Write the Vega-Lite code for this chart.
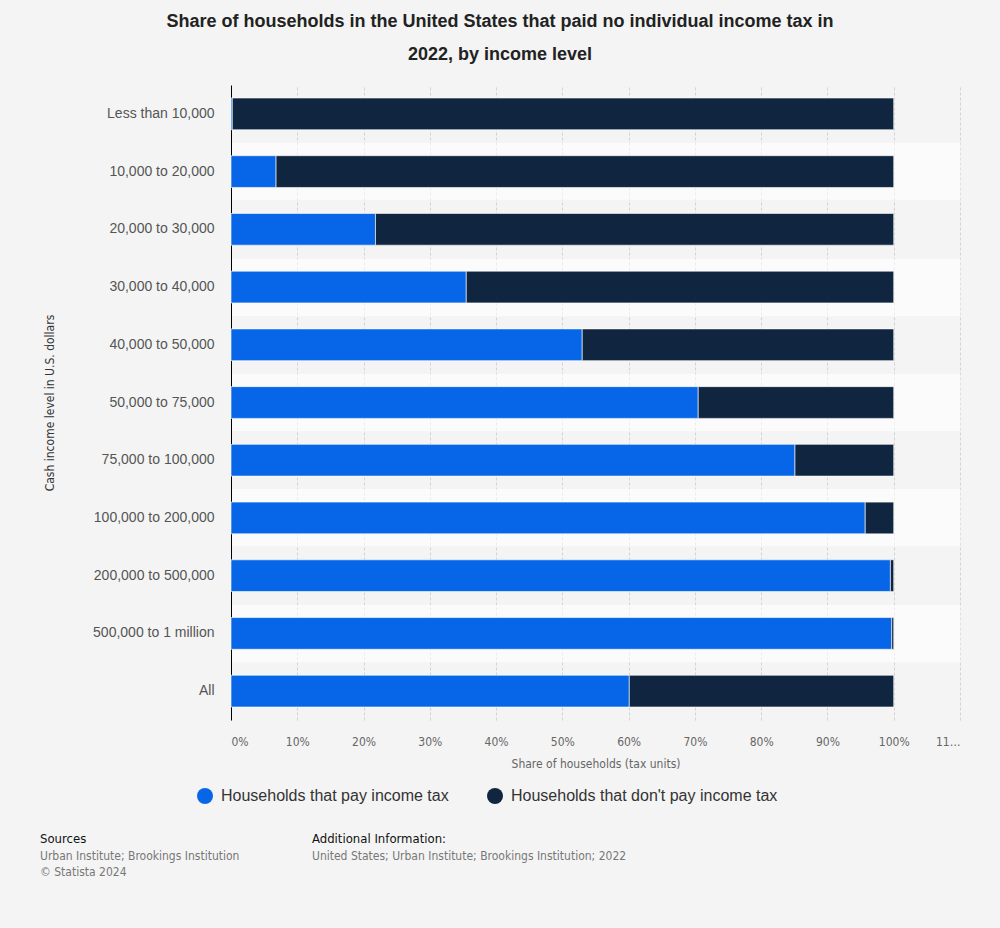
{
  "$schema": "https://vega.github.io/schema/vega-lite/v6.json",
  "background": "#f4f4f4",
  "padding": {"left": 40, "top": 13, "right": 40, "bottom": 52},
  "spacing": 29,
  "title": {
    "text": ["Share of households in the United States that paid no individual income tax in", "2022, by income level"],
    "fontSize": 18,
    "font": "Liberation Sans",
    "fontWeight": "bold",
    "color": "#222222",
    "lineHeight": 33,
    "anchor": "middle",
    "offset": 21,
    "frame": "bounds"
  },
  "config": {"view": {"stroke": null}},
  "resolve": {"scale": {"color": "independent", "size": "independent"}, "legend": {"color": "independent"}},
  "vconcat": [
    {
      "width": 729,
      "height": 635,
      "data": {"values": [
        {"income": "Less than 10,000", "group": "Households that pay income tax", "share": 0.2},
        {"income": "Less than 10,000", "group": "Households that don't pay income tax", "share": 99.8},
        {"income": "10,000 to 20,000", "group": "Households that pay income tax", "share": 6.8},
        {"income": "10,000 to 20,000", "group": "Households that don't pay income tax", "share": 93.2},
        {"income": "20,000 to 30,000", "group": "Households that pay income tax", "share": 21.8},
        {"income": "20,000 to 30,000", "group": "Households that don't pay income tax", "share": 78.2},
        {"income": "30,000 to 40,000", "group": "Households that pay income tax", "share": 35.5},
        {"income": "30,000 to 40,000", "group": "Households that don't pay income tax", "share": 64.5},
        {"income": "40,000 to 50,000", "group": "Households that pay income tax", "share": 53.0},
        {"income": "40,000 to 50,000", "group": "Households that don't pay income tax", "share": 47.0},
        {"income": "50,000 to 75,000", "group": "Households that pay income tax", "share": 70.5},
        {"income": "50,000 to 75,000", "group": "Households that don't pay income tax", "share": 29.5},
        {"income": "75,000 to 100,000", "group": "Households that pay income tax", "share": 85.1},
        {"income": "75,000 to 100,000", "group": "Households that don't pay income tax", "share": 14.9},
        {"income": "100,000 to 200,000", "group": "Households that pay income tax", "share": 95.7},
        {"income": "100,000 to 200,000", "group": "Households that don't pay income tax", "share": 4.3},
        {"income": "200,000 to 500,000", "group": "Households that pay income tax", "share": 99.5},
        {"income": "200,000 to 500,000", "group": "Households that don't pay income tax", "share": 0.5},
        {"income": "500,000 to 1 million", "group": "Households that pay income tax", "share": 99.7},
        {"income": "500,000 to 1 million", "group": "Households that don't pay income tax", "share": 0.3},
        {"income": "All", "group": "Households that pay income tax", "share": 60.1},
        {"income": "All", "group": "Households that don't pay income tax", "share": 39.9}
      ]},
      "mark": {"type": "bar", "stroke": "#ffffff", "strokeWidth": 1, "strokeOpacity": 0.6},
      "encoding": {
        "y": {
          "field": "income",
          "type": "nominal",
          "sort": null,
          "scale": {"paddingInner": 0.45, "paddingOuter": 0.225},
          "axis": {
            "title": "Cash income level in U.S. dollars",
            "titleFont": "DejaVu Sans Condensed, Liberation Sans, sans-serif",
            "titleFontSize": 12,
            "titleFontWeight": "normal",
            "titleColor": "#333333",
            "titlePadding": 36,
            "labelFont": "Liberation Sans",
            "labelFontSize": 14,
            "labelColor": "#555555",
            "labelPadding": 17,
            "ticks": false,
            "domain": true,
            "domainColor": "#000000",
            "domainWidth": 1,
            "grid": true,
            "bandPosition": 0.5,
            "gridWidth": 57.7,
            "gridColor": "#ffffff",
            "gridOpacity": {
              "condition": {
                "test": "indexof(['10,000 to 20,000','30,000 to 40,000','50,000 to 75,000','100,000 to 200,000','500,000 to 1 million'], datum.value) >= 0",
                "value": 0.6
              },
              "value": 0
            }
          }
        },
        "x": {
          "field": "share",
          "type": "quantitative",
          "stack": "zero",
          "scale": {"domain": [0, 110], "nice": false},
          "axis": {
            "title": "Share of households (tax units)",
            "titleFont": "DejaVu Sans Condensed, Liberation Sans, sans-serif",
            "titleFontSize": 12,
            "titleFontWeight": "normal",
            "titleColor": "#666666",
            "titlePadding": 11,
            "labelFont": "DejaVu Sans Condensed, Liberation Sans, sans-serif",
            "labelFontSize": 12,
            "labelColor": "#666666",
            "labelPadding": 16,
            "tickCount": 11,
            "labelExpr": "datum.value == 110 ? '11…' : datum.value + '%'",
            "ticks": false,
            "domain": false,
            "grid": true,
            "gridColor": "#d3d3d3",
            "gridDash": [3, 2],
            "gridWidth": 1
          }
        },
        "color": {
          "field": "group",
          "type": "nominal",
          "scale": {
            "domain": ["Households that pay income tax", "Households that don't pay income tax"],
            "range": ["#0766e8", "#10253f"]
          },
          "legend": {
            "orient": "none",
            "legendX": -34,
            "legendY": 703,
            "direction": "horizontal",
            "title": null,
            "symbolType": "circle",
            "symbolSize": 256,
            "symbolStrokeWidth": 0,
            "labelFont": "Liberation Sans",
            "labelFontSize": 16,
            "labelColor": "#333333",
            "labelLimit": 400,
            "labelOffset": 8,
            "columnPadding": 38
          }
        },
        "order": {"field": "group", "sort": "descending"}
      }
    },
    {
      "width": 600,
      "height": 33,
      "data": {"values": [
        {"col": "left", "line": 1, "kind": "head", "text": "Sources"},
        {"col": "left", "line": 2, "kind": "body", "text": "Urban Institute; Brookings Institution"},
        {"col": "left", "line": 3, "kind": "body", "text": "© Statista 2024"},
        {"col": "right", "line": 1, "kind": "head", "text": "Additional Information:"},
        {"col": "right", "line": 2, "kind": "body", "text": "United States; Urban Institute; Brookings Institution; 2022"}
      ]},
      "mark": {"type": "text", "align": "left", "baseline": "middle", "font": "DejaVu Sans Condensed, Liberation Sans, sans-serif"},
      "encoding": {
        "x": {"field": "col", "type": "nominal", "scale": {"type": "point", "padding": 0, "domain": ["left", "right"], "range": [-191, 81]}, "axis": null},
        "y": {"field": "line", "type": "ordinal", "scale": {"type": "point", "padding": 0, "domain": [1, 2, 3], "range": [0, 33]}, "axis": null},
        "text": {"field": "text"},
        "color": {"field": "kind", "type": "nominal", "scale": {"domain": ["head", "body"], "range": ["#111111", "#777777"]}, "legend": null},
        "size": {"field": "kind", "type": "ordinal", "scale": {"domain": ["head", "body"], "range": [13, 12]}, "legend": null}
      }
    }
  ]
}
